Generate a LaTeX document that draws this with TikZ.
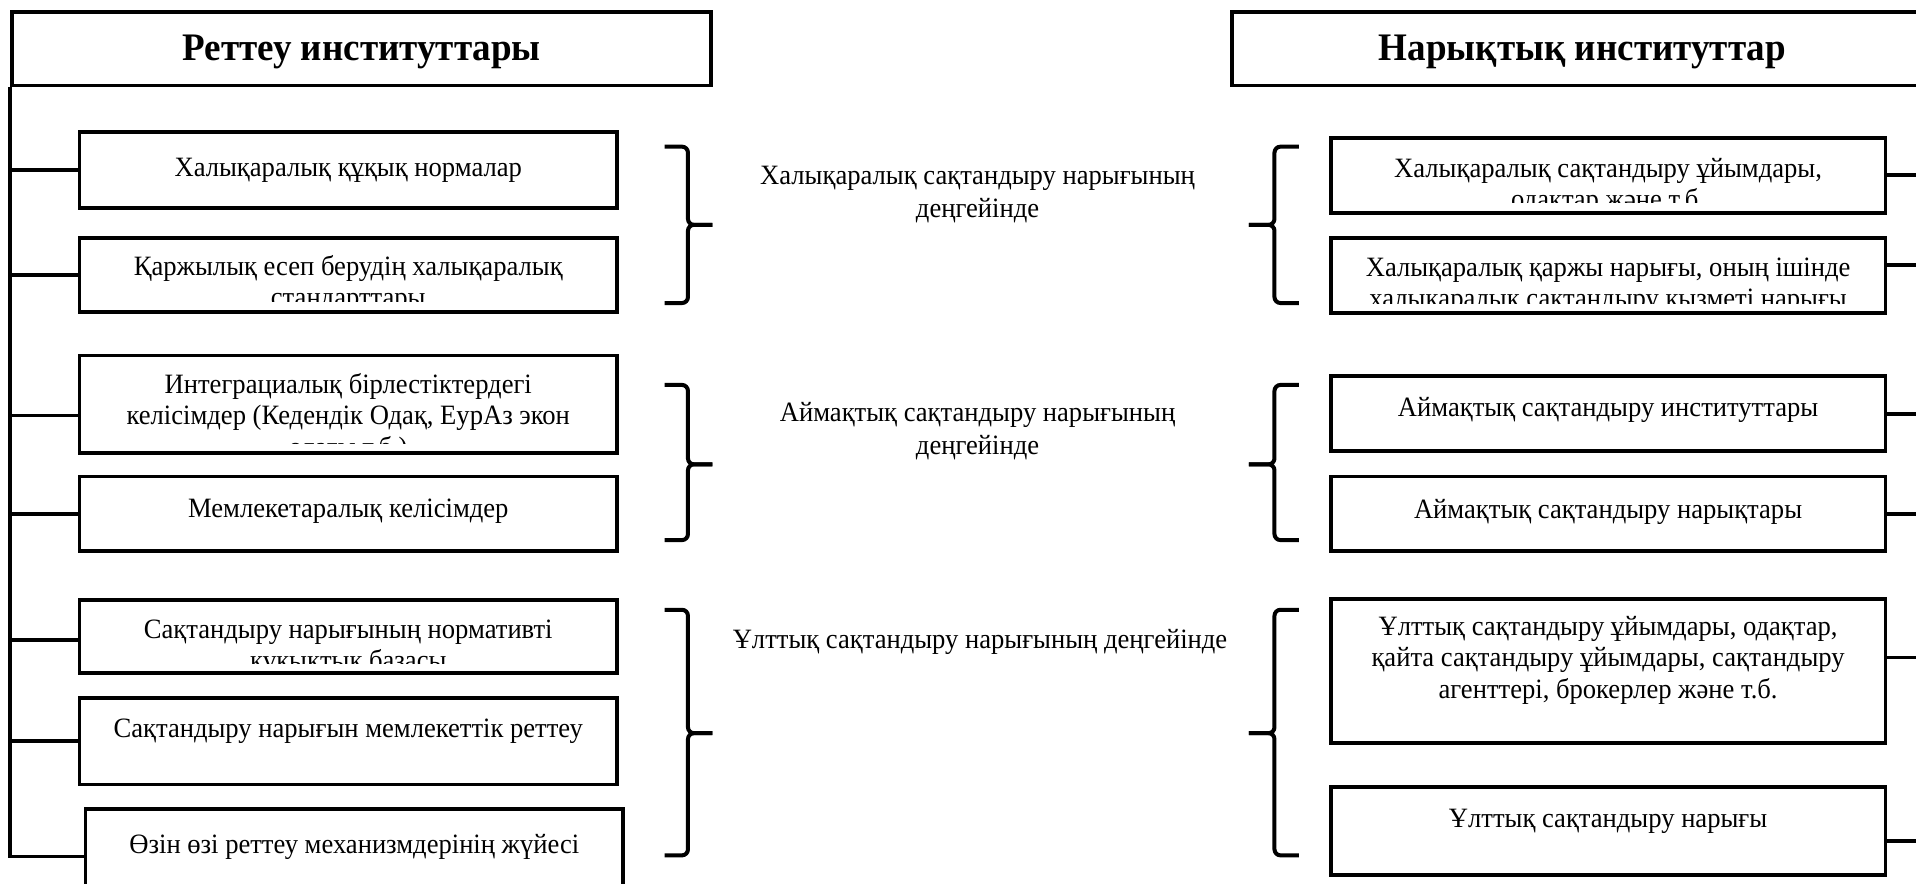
\documentclass[tikz,border=0pt]{standalone}
\usepackage{fontspec}
\setmainfont{Liberation Serif}[FakeStretch=0.95]
\tikzset{
  boxst/.style={draw, line width=1.9pt, rectangle, inner sep=0pt, fill=white},
  txt/.style={align=center, inner sep=0pt, font=\fontsize{14}{15.6}\selectfont},
  midtxt/.style={align=center, inner sep=0pt, font=\fontsize{14}{16.5}\selectfont},
  ttl/.style={inner sep=0pt, font=\fontsize{19.5}{22}\selectfont\bfseries},
  conn/.style={line width=1.9pt},
  bracest/.style={line width=2pt, rounded corners=3pt},
}
% name, x1, y1, x2, y2, north-y of text, text
\newcommand\mkbox[7]{%
  \node[boxst, minimum width={(#4-#2)*0.611pt}, minimum height={(#5-#3)*0.611pt}] (#1) at ({(#2+#4)/2},{(#3+#5)/2}) {};
  \begin{scope}
    \clip (#2+2,#3+2) rectangle (#4-2,#5-8);
    \node[txt, anchor=north] (#1t) at ({(#2+#4)/2},#6+3) {\strut #7};
  \end{scope}}
% right-facing brace: x, top, mid, bottom
\newcommand\rbr[4]{%
  \draw[bracest] (#1,#2) -- (#1+19,#2) -- (#1+19,#3) -- (#1+39,#3);
  \draw[bracest] (#1,#4) -- (#1+19,#4) -- (#1+19,#3) -- (#1+39,#3);}
% left-facing brace: x (tick end), top, mid, bottom
\newcommand\lbr[4]{%
  \draw[bracest] (#1,#2) -- (#1-20,#2) -- (#1-20,#3) -- (#1-41,#3);
  \draw[bracest] (#1,#4) -- (#1-20,#4) -- (#1-20,#3) -- (#1-41,#3);}
\begin{document}
\begin{tikzpicture}[x=0.611pt, y=-0.611pt]
\useasboundingbox (0,0) rectangle (1568,723);
\fill[white] (0,0) rectangle (1568,723);

% titles
\node[boxst, minimum width={572*0.611pt}, minimum height={60*0.611pt}] (tl) at (296,40) {};
\node[ttl] (tlt) at (296,42.5) {Реттеу институттары};
\node[boxst, minimum width={574*0.611pt}, minimum height={60*0.611pt}] (tr) at (1295,40) {};
\node[ttl] (trt) at (1295,42.5) {Нарықтық институттар};

% left boxes
\mkbox{l1}{65}{108}{505}{170}{123}{Халықаралық құқық нормалар}
\mkbox{l2}{65}{195}{505}{255}{204}{Қаржылық есеп берудің халықаралық\\стандарттары}
\mkbox{l3}{65}{291}{505}{371}{301}{Интеграциалық бірлестіктердегі\\келісімдер (Кедендік Одақ, ЕурАз экон\\одағы т.б.)}
\mkbox{l4}{65}{390}{505}{451}{402}{Мемлекетаралық келісімдер}
\mkbox{l5}{65}{491}{505}{551}{501}{Сақтандыру нарығының нормативті\\құқықтық базасы}
\mkbox{l6}{65}{571}{505}{642}{582}{Сақтандыру нарығын мемлекеттік реттеу}
\mkbox{l7}{70}{662}{510}{740}{677}{Өзін өзі реттеу механизмдерінің жүйесі}

% right boxes
\mkbox{r1}{1089}{113}{1543}{174}{124}{Халықаралық сақтандыру ұйымдары,\\одақтар және т.б.}
\mkbox{r2}{1089}{195}{1543}{256}{205}{Халықаралық қаржы нарығы, оның ішінде\\халықаралық сақтандыру қызметі нарығы}
\mkbox{r3}{1089}{308}{1543}{369}{320}{Аймақтық сақтандыру институттары}
\mkbox{r4}{1089}{390}{1543}{451}{403}{Аймақтық сақтандыру нарықтары}
\mkbox{r5}{1089}{490}{1543}{608}{499}{Ұлттық сақтандыру ұйымдары, одақтар,\\қайта сақтандыру ұйымдары, сақтандыру\\агенттері, брокерлер және т.б.}
\mkbox{r6}{1089}{644}{1543}{716}{656}{Ұлттық сақтандыру нарығы}

% middle labels
\node[midtxt] (m1) at (800,159.5) {Халықаралық сақтандыру нарығының\\деңгейінде};
\node[midtxt] (m2) at (800,353) {Аймақтық сақтандыру нарығының\\деңгейінде};
\node[midtxt] (m3) at (802,525) {Ұлттық сақтандыру нарығының деңгейінде};

% left trunk and branches
\draw[conn] (tl.south west) |- (l7.west);
\draw[conn] (l1.west) -- (l1.west -| tl.west);
\draw[conn] (l2.west) -- (l2.west -| tl.west);
\draw[conn] ([yshift=-5.5pt]l3.west) -- ([yshift=-5.5pt]l3.west -| tl.west);
\draw[conn] (l4.west) -- (l4.west -| tl.west);
\draw[conn] ([yshift=-1.5pt]l5.west) -- ([yshift=-1.5pt]l5.west -| tl.west);
\draw[conn] (l6.west) -- (l6.west -| tl.west);

% right branches (trunk lies beyond the page)
\coordinate (rtrunk) at (1580,0);
\draw[conn] (r1.east) -- (r1.east -| rtrunk);
\draw[conn] ([yshift=5.2pt]r2.east) -- ([yshift=5.2pt]r2.east -| rtrunk);
\draw[conn] (r3.east) -- (r3.east -| rtrunk);
\draw[conn] (r4.east) -- (r4.east -| rtrunk);
\draw[conn] ([yshift=6.7pt]r5.east) -- ([yshift=6.7pt]r5.east -| rtrunk);
\draw[conn] ([yshift=-4.9pt]r6.east) -- ([yshift=-4.9pt]r6.east -| rtrunk);

% braces
\rbr{544}{120}{184}{248}
\rbr{544}{315}{380}{442}
\rbr{544}{499}{600}{700}
\lbr{1063}{120}{184}{248}
\lbr{1063}{315}{380}{442}
\lbr{1063}{499}{600}{700}
\end{tikzpicture}
\end{document}
